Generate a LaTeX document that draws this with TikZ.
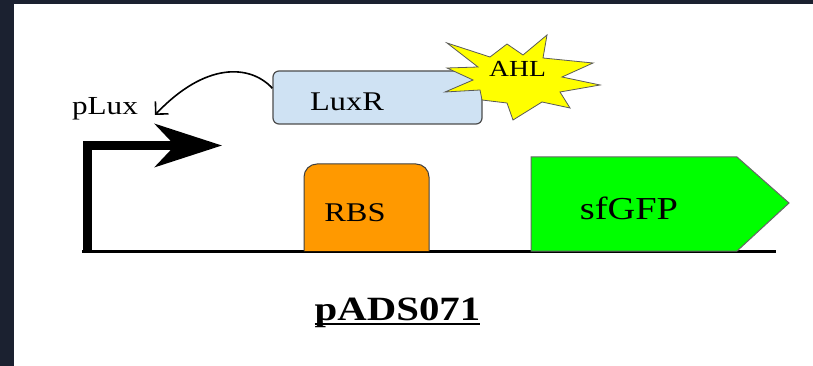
\documentclass[tikz,border=0pt]{standalone}
\usepackage{fontspec}
\setmainfont[FakeStretch=1.2]{Liberation Serif}
\usetikzlibrary{arrows.meta}

\definecolor{screen}{HTML}{1B2130}
\definecolor{luxrblue}{HTML}{CFE2F3}
\definecolor{rbsorange}{HTML}{FF9900}
\definecolor{gfpgreen}{HTML}{00FF00}
\definecolor{ahlyellow}{HTML}{FFFF00}

\begin{document}
\begin{tikzpicture}[x=1pt,y=-1pt,
  lbl/.style={anchor=base,inner sep=0pt},
  part/.style={draw=black!75,line width=1pt},
  protein/.style={draw=black!70,line width=1.2pt,fill=luxrblue,rounded corners=6pt,
    minimum width=209pt,minimum height=53pt,inner sep=0pt}]
  % frame
  \useasboundingbox[fill=white] (0,0) rectangle (813,366);
  \fill[screen] (0,0) rectangle (813,4);
  \fill[screen] (0,0) rectangle (14,366);

  % backbone
  \draw[line width=3pt] (82,251.5) -- (776,251.5);

  % RBS and sfGFP
  \filldraw[part,fill=rbsorange,rounded corners=13pt]
    (304,251) -- (304,164) -- (429,164) -- (429,251);
  \filldraw[part,draw=black!60,fill=gfpgreen]
    (531,251) -- (531,157) -- (737,157) -- (789,203) -- (737,251) -- cycle;

  % promoter
  \draw[line width=9pt,-{Stealth[length=67pt 0,width=43pt 0,inset=20pt 0]}]
    (87,251) -- (87,145.5) -- (222,145.5);

  % LuxR and AHL
  \node[protein] (luxr) at (377.5,97.5) {};
  \filldraw[draw=black!65,line width=0.8pt,fill=ahlyellow]
    (447,43) -- (490,57) -- (507,44) -- (523,55) -- (547,35) -- (543,58)
    -- (593,63) -- (562,77) -- (600,85) -- (560,92) -- (570,108) -- (542,102)
    -- (513,120) -- (507,103) -- (482,100) -- (480,90) -- (445,92) -- (473,80)
    -- (447,68) -- (478,67) -- cycle;

  % labels
  \node[lbl,font=\fontsize{26}{30}\selectfont] (plux) at (105,115) {pLux};
  \node[lbl,font=\fontsize{27}{31}\selectfont] (luxrtext) at (347,111) {LuxR};
  \node[lbl,font=\fontsize{23}{27}\selectfont] (ahl) at (517.5,77) {AHL};
  \node[lbl,font=\fontsize{27}{31}\selectfont] (rbs) at (355,221) {RBS};
  \node[lbl,font=\fontsize{32}{36}\selectfont] (gfp) at (629,219) {sfGFP};
  \node[lbl,font=\bfseries\fontsize{34}{38}\selectfont] (title) at (397.5,320) {pADS071};
  \draw[line width=2pt] ([yshift=-4pt]title.base west) -- ([yshift=-4pt]title.base east);

  % activation
  \coordinate (pluxtip) at (155,115);
  \draw[line width=1.6pt,-{Straight Barb[length=9pt,width=18pt]}]
    (luxr.175) .. controls (250,64) and (205,62) .. (pluxtip);
\end{tikzpicture}
\end{document}
